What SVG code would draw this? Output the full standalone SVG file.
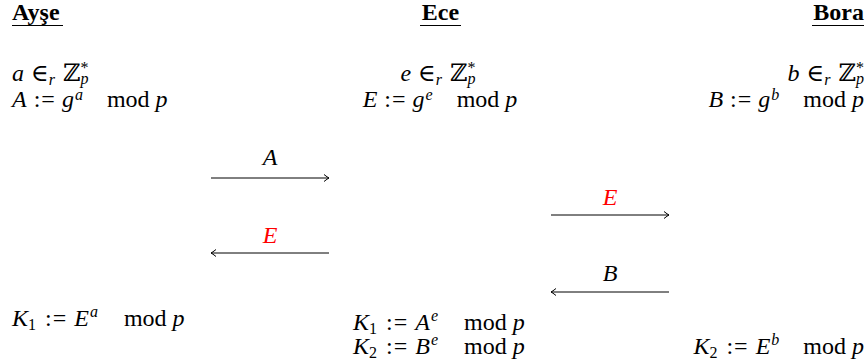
<svg xmlns="http://www.w3.org/2000/svg" width="868" height="363" viewBox="0 0 868 363">
<style>
text{font-family:"Liberation Serif","DejaVu Serif",serif;font-size:24px;fill:#000}
.i{font-style:italic}
.s{font-size:16px}
.t{font-weight:bold;font-size:24px}
.red{fill:#ff0000}
.ln{stroke:#000;stroke-width:1;fill:none}
.ul{stroke:#000;stroke-width:1.2}
</style>
<defs>
<marker id="ah" markerWidth="10" markerHeight="10" refX="8" refY="5" orient="auto" markerUnits="userSpaceOnUse">
<path d="M3,1.5 Q6.5,4.3 8,5 Q6.5,5.7 3,8.5" fill="none" stroke="#000" stroke-width="1"/>
</marker>
</defs>
<rect width="868" height="363" fill="#fff"/>
<g id="ayse">
<text class="t" x="12" y="20">Ayşe</text>
<line class="ul" x1="12" y1="25.5" x2="63" y2="25.5"/>
<text x="12" y="81"><tspan class="i">a</tspan><tspan dx="7">∈</tspan><tspan class="s i" dy="4">r</tspan><tspan dx="8" dy="-4">ℤ</tspan><tspan class="s" dy="-8">*</tspan><tspan class="s i" dx="-8" dy="11">p</tspan></text>
<text x="12" y="107"><tspan class="i">A</tspan><tspan dx="7">:</tspan><tspan dx="1">=</tspan><tspan class="i" dx="7">g</tspan><tspan class="s i" dx="1" dy="-7">a</tspan><tspan dx="24" dy="7">mod</tspan><tspan class="i" dx="6">p</tspan></text>
<text x="12" y="326"><tspan class="i">K</tspan><tspan class="s" dy="4">1</tspan><tspan dx="9" dy="-4">:</tspan><tspan dx="1">=</tspan><tspan class="i" dx="8">E</tspan><tspan class="s i" dx="1" dy="-9">a</tspan><tspan dx="26" dy="9">mod</tspan><tspan class="i" dx="6">p</tspan></text>
</g>
<g id="ece">
<text class="t" x="440.5" y="20" text-anchor="middle">Ece</text>
<line class="ul" x1="420" y1="25.5" x2="461" y2="25.5"/>
<text x="438" y="81" text-anchor="middle"><tspan class="i">e</tspan><tspan dx="7">∈</tspan><tspan class="s i" dy="4">r</tspan><tspan dx="8" dy="-4">ℤ</tspan><tspan class="s" dy="-8">*</tspan><tspan class="s i" dx="-8" dy="11">p</tspan></text>
<text x="440" y="107" text-anchor="middle"><tspan class="i">E</tspan><tspan dx="7">:</tspan><tspan dx="1">=</tspan><tspan class="i" dx="7">g</tspan><tspan class="s i" dx="1" dy="-7">e</tspan><tspan dx="24" dy="7">mod</tspan><tspan class="i" dx="6">p</tspan></text>
<text x="353" y="330"><tspan class="i">K</tspan><tspan class="s" dy="4">1</tspan><tspan dx="9" dy="-4">:</tspan><tspan dx="1">=</tspan><tspan class="i" dx="8">A</tspan><tspan class="s i" dx="1" dy="-9">e</tspan><tspan dx="26" dy="9">mod</tspan><tspan class="i" dx="6">p</tspan></text>
<text x="353" y="354"><tspan class="i">K</tspan><tspan class="s" dy="4">2</tspan><tspan dx="9" dy="-4">:</tspan><tspan dx="1">=</tspan><tspan class="i" dx="8">B</tspan><tspan class="s i" dx="1" dy="-9">e</tspan><tspan dx="26" dy="9">mod</tspan><tspan class="i" dx="6">p</tspan></text>
</g>
<g id="bora">
<text class="t" x="864" y="20" text-anchor="end">Bora</text>
<line class="ul" x1="812" y1="25.5" x2="864" y2="25.5"/>
<text x="864" y="81" text-anchor="end"><tspan class="i">b</tspan><tspan dx="7">∈</tspan><tspan class="s i" dy="4">r</tspan><tspan dx="8" dy="-4">ℤ</tspan><tspan class="s" dy="-8">*</tspan><tspan class="s i" dx="-8" dy="11">p</tspan></text>
<text x="864" y="107" text-anchor="end"><tspan class="i">B</tspan><tspan dx="7">:</tspan><tspan dx="1">=</tspan><tspan class="i" dx="7">g</tspan><tspan class="s i" dx="1" dy="-7">b</tspan><tspan dx="24" dy="7">mod</tspan><tspan class="i" dx="6">p</tspan></text>
<text x="864" y="354" text-anchor="end"><tspan class="i">K</tspan><tspan class="s" dy="4">2</tspan><tspan dx="9" dy="-4">:</tspan><tspan dx="1">=</tspan><tspan class="i" dx="8">E</tspan><tspan class="s i" dx="1" dy="-9">b</tspan><tspan dx="24" dy="9">mod</tspan><tspan class="i" dx="6">p</tspan></text>
</g>
<g id="connectors">
<line class="ln" x1="211" y1="178" x2="329" y2="178" marker-end="url(#ah)"/>
<text class="i" x="270" y="165" text-anchor="middle">A</text>
<line class="ln" x1="329" y1="253" x2="211" y2="253" marker-end="url(#ah)"/>
<text class="i red" x="270" y="243" text-anchor="middle">E</text>
<line class="ln" x1="551" y1="215" x2="669" y2="215" marker-end="url(#ah)"/>
<text class="i red" x="610" y="205" text-anchor="middle">E</text>
<line class="ln" x1="669" y1="292" x2="551" y2="292" marker-end="url(#ah)"/>
<text class="i" x="610" y="281" text-anchor="middle">B</text>
</g>
</svg>
